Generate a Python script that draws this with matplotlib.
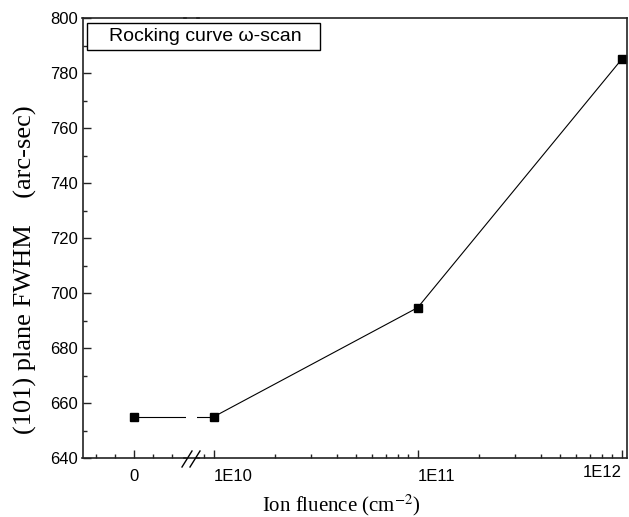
import numpy as np
import matplotlib
matplotlib.use("Agg")
import matplotlib.pyplot as plt
from matplotlib.patches import Rectangle
from matplotlib.lines import Line2D
from matplotlib.ticker import FixedLocator, MultipleLocator, LogLocator, NullFormatter
from matplotlib.transforms import ScaledTranslation

# FWHM of the (101) rocking curve vs. ion fluence
fluence = [0, 1e10, 1e11, 1e12]
fwhm = [655.1, 655.1, 694.8, 785.1]
tick_vals = [1e10, 1e11, 1e12]
tick_text = ["1E10", "1E11", "1E12"]

W, H = 629, 517
fig = plt.figure(figsize=(W / 100, H / 100), dpi=100)
plt.rcParams["font.family"] = ["Liberation Sans", "DejaVu Sans"]

def fx(px):
    return px / W

def fy(py):
    return 1 - py / H

# plot frame in pixels
X0, X1 = 82.5, 627.0
Y_TOP, Y_BOT = 18.3, 458.3
GAP_L, GAP_R = 186.0, 197.0

bottom = fy(Y_BOT)
height = (Y_BOT - Y_TOP) / H
ax_l = fig.add_axes([fx(X0), bottom, fx(GAP_L) - fx(X0), height])
ax_r = fig.add_axes([fx(GAP_R), bottom, fx(X1) - fx(GAP_R), height])

LW = 1.2
YLIM = (640, 800)
XL = (-2.73, 2.72)               # linear part around zero
XR = (10 ** 9.918, 10 ** 12.026)  # log part

for ax in (ax_l, ax_r):
    ax.set_ylim(*YLIM)
    for s in ax.spines.values():
        s.set_linewidth(LW)
        s.set_color("#222222")
    ax.tick_params(which="both", direction="in", width=1.0, color="#222222",
                   labelsize=12)
    ax.tick_params(which="major", length=6)
    ax.tick_params(which="minor", length=3)

ax_l.spines["right"].set_visible(False)
ax_r.spines["left"].set_visible(False)

# left (linear) segment
ax_l.set_xlim(*XL)
ax_l.xaxis.set_major_locator(FixedLocator([0]))
ax_l.xaxis.set_minor_locator(MultipleLocator(1))
ax_l.yaxis.set_major_locator(MultipleLocator(20))
ax_l.yaxis.set_minor_locator(MultipleLocator(10))
ax_l.tick_params(axis="x", pad=8)
ax_l.tick_params(axis="y", which="both", right=False)

ax_l.plot([fluence[0], XL[1]], [fwhm[0], fwhm[1]], color="black", lw=0.8,
          clip_on=True)
ax_l.plot(fluence[:1], fwhm[:1], "s", color="black", ms=6, clip_on=False)

# right (log) segment
ax_r.set_xscale("log")
ax_r.set_xlim(*XR)
ax_r.xaxis.set_major_locator(FixedLocator(tick_vals))
ax_r.xaxis.set_minor_locator(LogLocator(base=10, subs=np.arange(2, 10)))
ax_r.xaxis.set_minor_formatter(NullFormatter())
ax_r.set_xticklabels(tick_text)
ax_r.tick_params(axis="x", pad=8)
ax_r.yaxis.set_major_locator(MultipleLocator(20))
ax_r.yaxis.set_minor_locator(MultipleLocator(10))
ax_r.tick_params(axis="y", which="both", left=False, labelleft=False)

labels = ax_r.get_xticklabels()
labels[0].set_ha("left")
labels[1].set_ha("left")
labels[2].set_ha("right")
labels[2].set_transform(labels[2].get_transform()
                        + ScaledTranslation(0, 3 / 72, fig.dpi_scale_trans))

ax_r.plot([XR[0], fluence[1]], [fwhm[0], fwhm[1]], color="black", lw=0.8)
ax_r.plot(fluence[1:], fwhm[1:], color="black", lw=0.8)
ax_r.plot(fluence[1:], fwhm[1:], "s", color="black", ms=6, clip_on=False)

# spine pieces across the break and the // marks
for py in (Y_TOP, Y_BOT):
    fig.add_artist(Line2D([fx(GAP_L - 2), fx(GAP_R + 2)], [fy(py), fy(py)],
                          color="#222222", lw=LW, solid_capstyle="projecting"))
for dx in (0, 8):
    fig.add_artist(Line2D([fx(182 + dx), fx(192 + dx)], [fy(467), fy(451)],
                          color="black", lw=1.0))

# legend box
fig.add_artist(Rectangle((fx(87), fy(50)), fx(320) - fx(87), fy(23) - fy(50),
                         transform=fig.transFigure, facecolor="white",
                         edgecolor="black", lw=1.0))
fig.text(fx(205), fy(36.5), "Rocking curve \u03c9-scan", ha="center",
         va="center", fontsize=14)

# axis titles
fig.text(fx(25), fy(270), "(101) plane FWHM    (arc-sec)", rotation=90,
         ha="center", va="center", fontsize=19, family="Liberation Serif")
fig.text(fx(341), fy(505), "Ion fluence (cm$^{-2}$)", ha="center",
         va="center", fontsize=15, family="Liberation Serif",
         math_fontfamily="stix")

fig.savefig("out.png", dpi=100, facecolor="white")
